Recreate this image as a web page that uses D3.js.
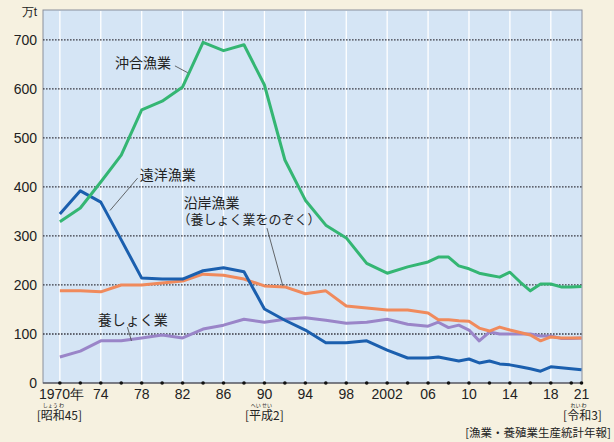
<!DOCTYPE html>
<html>
<head>
<meta charset="utf-8">
<script src="https://cdn.jsdelivr.net/npm/d3@7"></script>
<style>
  body { margin: 0; background: #f6f1e0; }
  svg { display: block; }
  .tick-label { font-family: "Liberation Sans Narrow", "Liberation Sans", sans-serif; font-size: 14px; fill: #222; }
  .jp { font-family: "Noto Sans CJK JP", sans-serif; fill: #222; }
</style>
</head>
<body>
<div id="chart"></div>
<script>
// years: every 2 years to 2006, then yearly
const years = [1970, 1972, 1974, 1976, 1978, 1980, 1982, 1984, 1986, 1988,
  1990, 1992, 1994, 1996, 1998, 2000, 2002, 2004, 2006,
  2007, 2008, 2009, 2010, 2011, 2012, 2013, 2014, 2015, 2016, 2017, 2018, 2019, 2020, 2021];

// 万t
const offshore = [329, 357, 410, 465, 557, 575, 604, 695, 678, 690,
  608, 455, 373, 322, 296, 244, 224, 237, 247,
  257, 257, 239, 233, 224, 220, 216, 226, 206, 188, 202, 202, 196, 196, 197];
const distant = [345, 392, 369, 292, 214, 212, 212, 229, 235, 227,
  151, 128, 108, 82, 82, 86, 67, 51, 51,
  53, 49, 45, 49, 41, 45, 39, 37, 33, 29, 24, 33, 31, 29, 27];
const coastal = [188, 188, 186, 200, 200, 204, 208, 222, 220, 212,
  198, 196, 182, 188, 157, 153, 149, 149, 143,
  129, 129, 127, 126, 112, 106, 114, 108, 103, 98, 86, 94, 92, 92, 92];
const aquaculture = [53, 65, 86, 86, 92, 98, 92, 110, 118, 130,
  124, 130, 133, 128, 122, 124, 130, 120, 116,
  124, 113, 118, 108, 86, 104, 100, 100, 100, 100, 96, 96, 91, 91, 92];

const yTicks = [0, 100, 200, 300, 400, 500, 600, 700];
const xLabelYears = [1970, 1974, 1978, 1982, 1986, 1990, 1994, 1998, 2002, 2006, 2010, 2014, 2018, 2021];
const xLabels = ["1970年", "74", "78", "82", "86", "90", "94", "98", "2002", "06", "10", "14", "18", "21"];

const WIDTH = 614,
  HEIGHT = 442,
  PLOT_LEFT = 43,
  PLOT_RIGHT = 582,
  PLOT_TOP = 10,
  PLOT_BOTTOM = 383;

var x = d3.scaleLinear().domain([1968.35, 2021]).range([PLOT_LEFT, 581.5]);
var y = d3.scaleLinear().domain([0, 761]).range([PLOT_BOTTOM, PLOT_TOP]);

var svg = d3
  .select("#chart")
  .append("svg")
  .attr("width", WIDTH)
  .attr("height", HEIGHT);

svg.append("rect")
  .attr("width", WIDTH)
  .attr("height", HEIGHT)
  .attr("fill", "#f6f1e0");

// plot background
svg.append("rect")
  .attr("x", PLOT_LEFT)
  .attr("y", PLOT_TOP)
  .attr("width", PLOT_RIGHT - PLOT_LEFT)
  .attr("height", PLOT_BOTTOM - PLOT_TOP)
  .attr("fill", "#d5e5f5")
  .attr("stroke", "#8a8f9c")
  .attr("stroke-width", 1);

// vertical white grid every 4 years
svg.append("g")
  .selectAll("line")
  .data(d3.range(1970, 2021, 4))
  .enter()
  .append("line")
  .attr("x1", d => x(d))
  .attr("x2", d => x(d))
  .attr("y1", PLOT_TOP + 1)
  .attr("y2", PLOT_BOTTOM)
  .attr("stroke", "#ffffff")
  .attr("stroke-width", 1.3);

// horizontal dotted grid
svg.append("g")
  .selectAll("line")
  .data(yTicks.filter(d => d > 0))
  .enter()
  .append("line")
  .attr("x1", PLOT_LEFT)
  .attr("x2", PLOT_RIGHT)
  .attr("y1", d => y(d))
  .attr("y2", d => y(d))
  .attr("stroke", "#3a3a44")
  .attr("stroke-width", 1.3)
  .attr("stroke-dasharray", "1.6,1.4");

// x axis line and dot ticks
svg.append("line")
  .attr("x1", PLOT_LEFT)
  .attr("x2", PLOT_RIGHT)
  .attr("y1", PLOT_BOTTOM)
  .attr("y2", PLOT_BOTTOM)
  .attr("stroke", "#3a3a44")
  .attr("stroke-width", 1.2);

svg.append("g")
  .selectAll("circle")
  .data(d3.range(1970, 2021, 2).concat([2021]))
  .enter()
  .append("circle")
  .attr("cx", d => x(d))
  .attr("cy", PLOT_BOTTOM)
  .attr("r", 1.8)
  .attr("fill", "#111");

// y tick labels
svg.append("g")
  .selectAll("text")
  .data(yTicks)
  .enter()
  .append("text")
  .attr("class", "tick-label")
  .attr("x", 37)
  .attr("y", d => y(d))
  .attr("dy", "0.36em")
  .attr("text-anchor", "end")
  .text(d => d);

svg.append("text")
  .attr("class", "tick-label")
  .attr("x", 37)
  .attr("y", 16)
  .attr("text-anchor", "end")
  .style("font-size", "12px")
  .text("万t");

// x tick labels
svg.append("g")
  .selectAll("text")
  .data(xLabelYears)
  .enter()
  .append("text")
  .attr("class", "tick-label")
  .attr("x", (d, i) => i === 0 ? x(d) - 21 : x(d))
  .attr("y", 399)
  .attr("text-anchor", (d, i) => i === 0 ? "start" : "middle")
  .text((d, i) => xLabels[i]);

// era labels with ruby
function era_label(cx, label, ruby) {
  svg.append("text")
    .attr("class", "jp")
    .attr("x", cx)
    .attr("y", 420)
    .attr("text-anchor", "middle")
    .style("font-size", "12px")
    .text(label);
  svg.append("text")
    .attr("class", "jp")
    .attr("x", cx + ruby.dx)
    .attr("y", 407)
    .attr("text-anchor", "middle")
    .style("font-size", "5px")
    .text(ruby.text);
}

era_label(x(1970) - 0.5, "[昭和45]", { text: "しょう わ", dx: -6 });
era_label(x(1990), "[平成2]", { text: "へい せい", dx: -3 });
era_label(x(2021) + 1, "[令和3]", { text: "れい わ", dx: -4 });

svg.append("text")
  .attr("class", "jp")
  .attr("x", 611)
  .attr("y", 437)
  .attr("text-anchor", "end")
  .style("font-size", "11.5px")
  .text("[漁業・養殖業生産統計年報]");

// series lines
var line = d3.line()
  .x((d, i) => x(years[i]))
  .y(d => y(d));

const series = [
  { values: aquaculture, color: "#9a85c8" },
  { values: coastal, color: "#f08a5c" },
  { values: distant, color: "#1b5fae" },
  { values: offshore, color: "#34b673" }
];

svg.append("g")
  .selectAll("path")
  .data(series)
  .enter()
  .append("path")
  .attr("d", d => line(d.values))
  .attr("fill", "none")
  .attr("stroke", d => d.color)
  .attr("stroke-width", 3)
  .attr("stroke-linejoin", "round");

// annotations
function leader(y1, v1, y2, v2) {
  svg.append("line")
    .attr("x1", x(y1))
    .attr("y1", y(v1))
    .attr("x2", x(y2))
    .attr("y2", y(v2))
    .attr("stroke", "#444")
    .attr("stroke-width", 0.8);
}

function note(yr, v, txt, size) {
  svg.append("text")
    .attr("class", "jp")
    .attr("x", x(yr))
    .attr("y", y(v))
    .attr("dy", "0.36em")
    .style("font-size", (size || 14) + "px")
    .text(txt);
}

note(1975.4, 653, "沖合漁業");
leader(1981.25, 647, 1982.5, 633);

note(1977.8, 424, "遠洋漁業");
leader(1977.6, 418, 1974.9, 352);

note(1982.1, 367, "沿岸漁業");
note(1981.5, 333, "（養しょく業をのぞく）", 13);
leader(1990.25, 316, 1991.8, 198);

note(1973.7, 129, "養しょく業");
leader(1976.6, 114, 1977, 86);
</script>
</body>
</html>
